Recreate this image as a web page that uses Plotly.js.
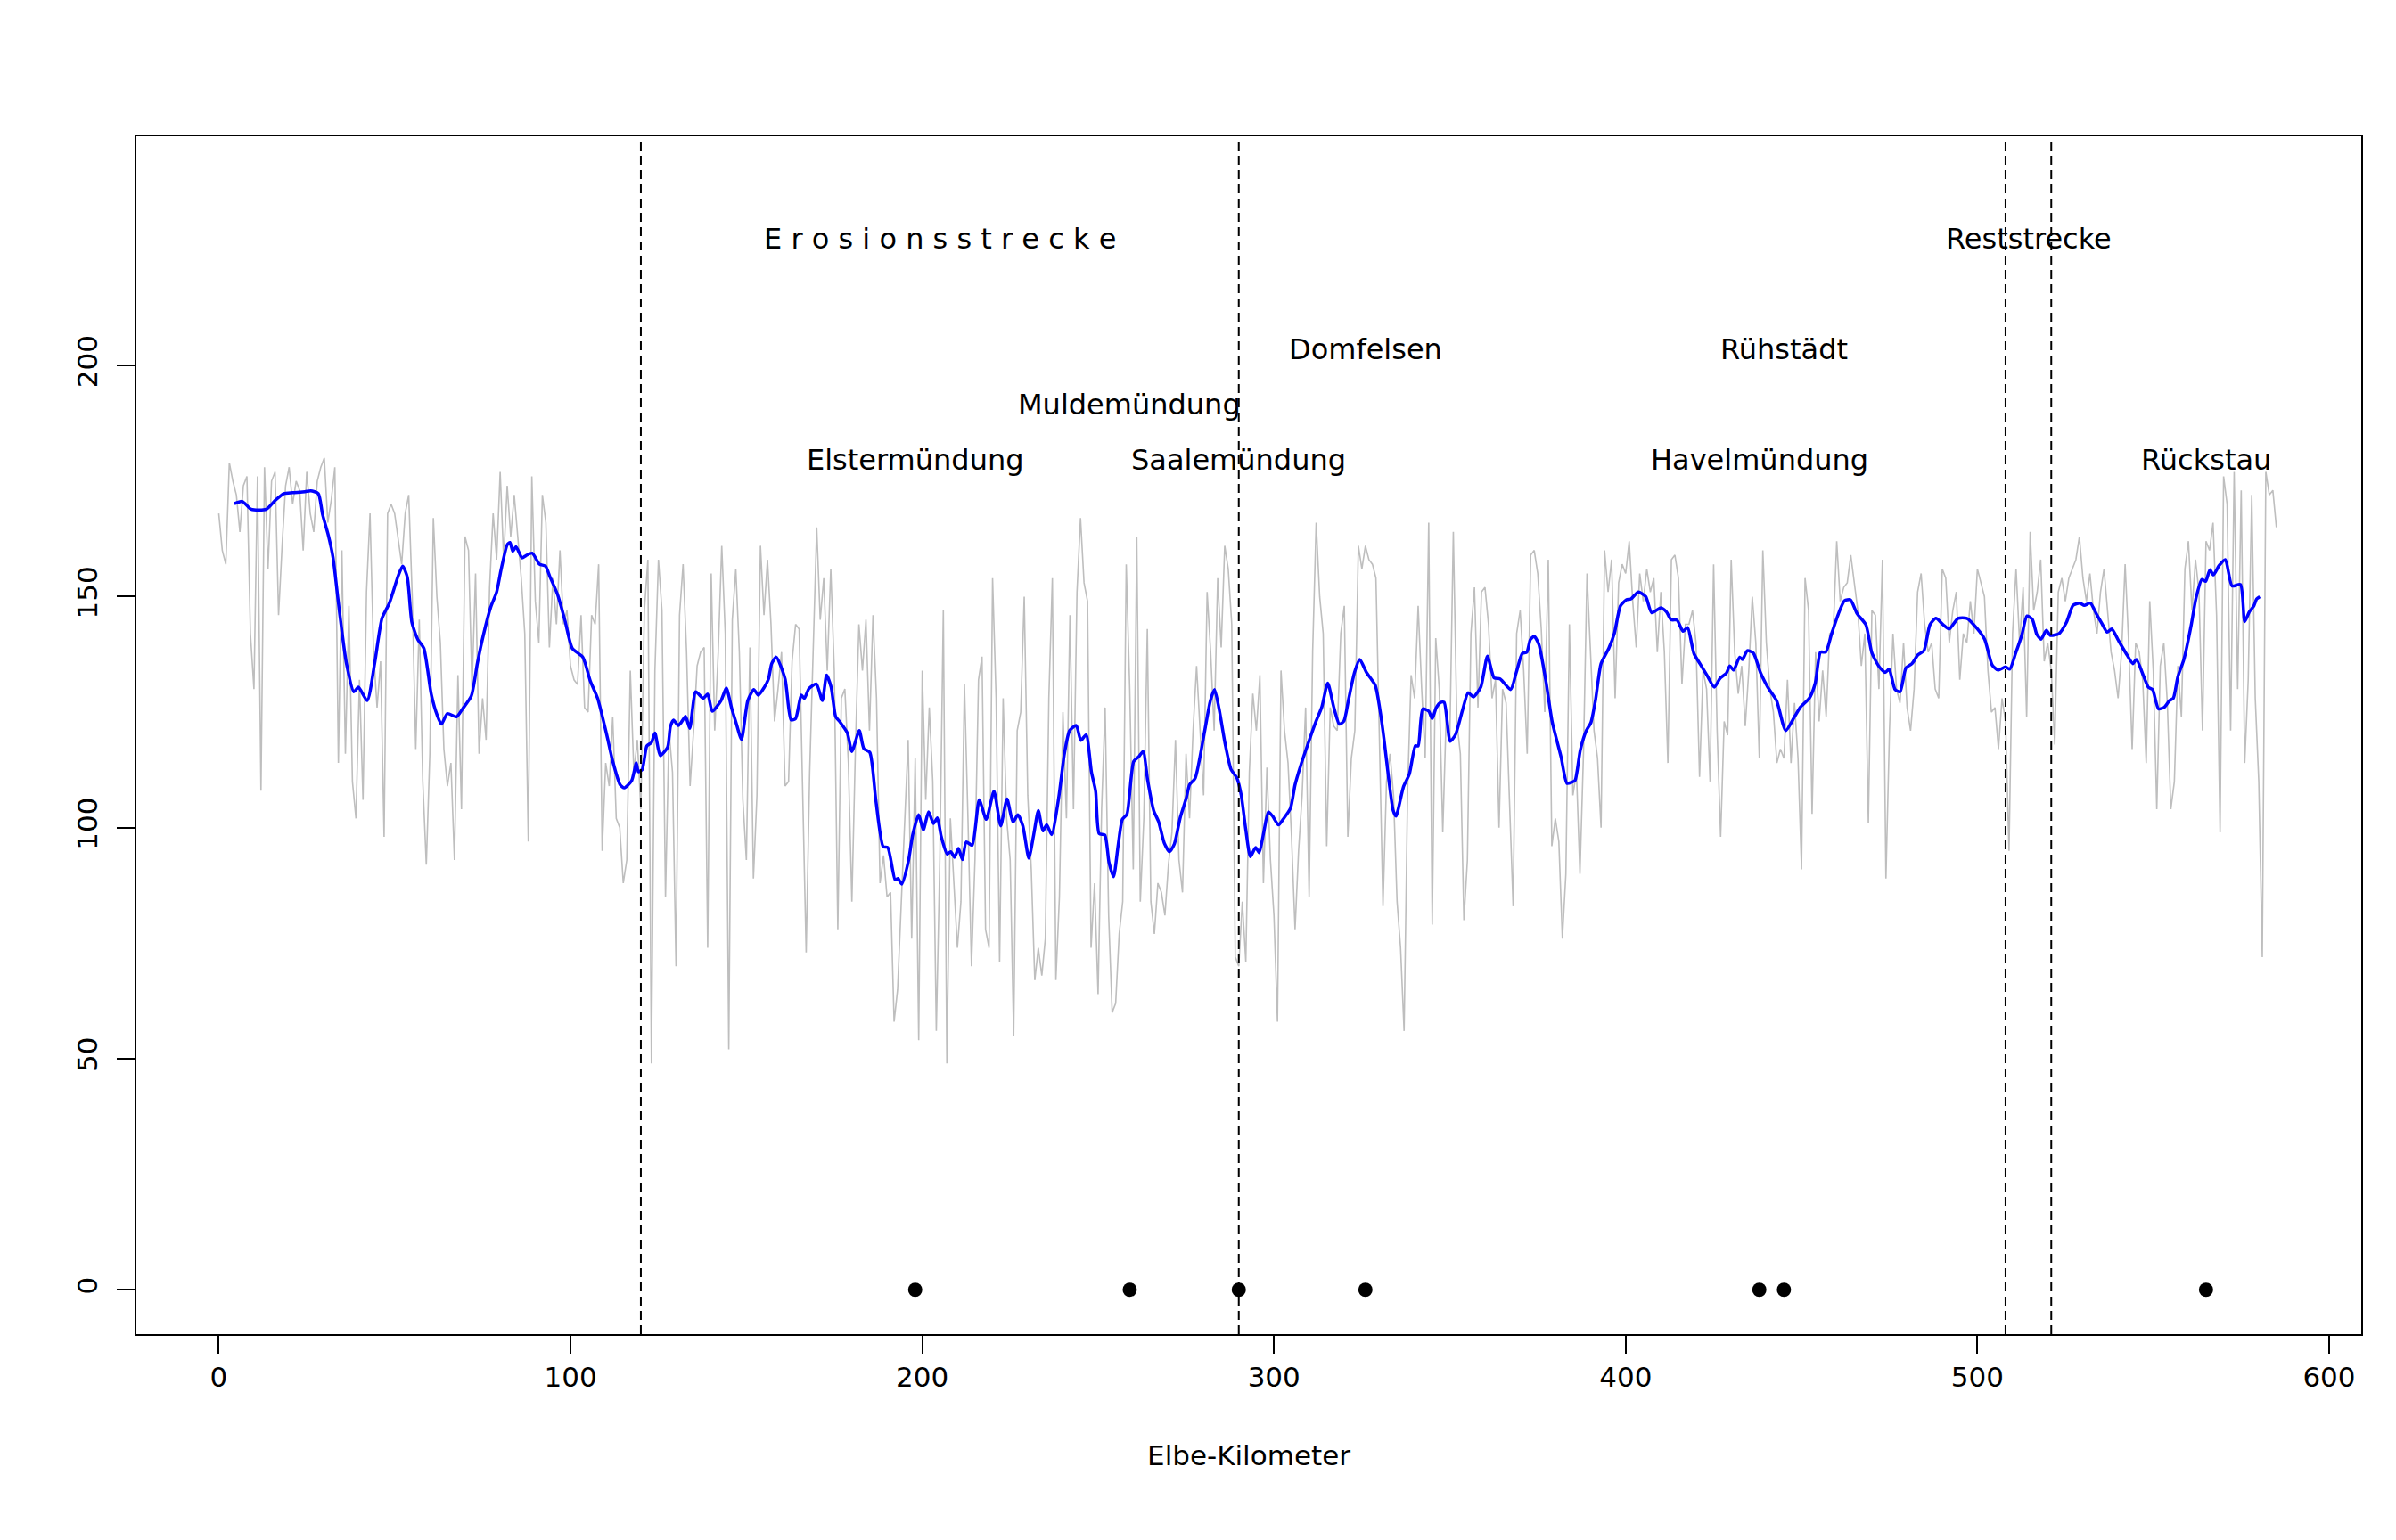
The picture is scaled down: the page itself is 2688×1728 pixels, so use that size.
<!DOCTYPE html>
<html>
<head>
<meta charset="utf-8">
<script src="https://cdn.plot.ly/plotly-3.0.1.min.js"></script>
<style>
html,body{margin:0;padding:0;background:#ffffff;}
#chart{width:2688px;height:1728px;}
</style>
</head>
<body>
<div id="chart"></div>
<script>
// ---- data ----
// raw bed-level values (grey), one value per Elbe-Kilometer from km 0
const grayStartKm = 0;
const grayStepKm = 1;
const grayVals = [
168,160,157,179,175,172,164,174,176,142,
130,176,108,178,156,175,177,146,161,174,
178,170,175,173,160,177,168,164,175,178,
180,166,171,178,114,160,116,148,110,102,
132,106,151,168,138,126,136,98,168,170,
168,162,157,168,172,150,117,145,110,92,
116,167,150,140,117,109,114,93,133,104,
163,160,130,155,116,128,119,152,168,158,
177,158,174,163,172,163,154,142,97,176,
149,140,172,166,139,154,144,160,144,147,
135,132,
131,146,126,125,146,144,157,95,
114,109,124,102,100,88,93,134,112,119,
104,147,158,49,134,158,147,85,121,112,
70,146,157,138,109,121,135,138,139,74,
155,121,138,161,142,52,145,156,138,106,
93,139,89,107,161,146,158,144,123,130,
138,109,110,136,144,143,105,73,112,140,
165,145,154,134,156,134,78,128,130,114,
84,117,144,134,145,121,146,128,88,94,
85,86,58,65,84,103,119,76,115,54,
134,106,126,110,
56,93,147,49,102,88,
74,84,131,102,70,93,132,137,78,74,
154,128,71,128,102,93,55,121,125,150,
107,91,67,74,68,76,128,154,67,85,
125,102,146,104,151,167,153,149,74,88,
64,104,126,81,60,62,77,84,157,130,
91,163,84,102,143,84,77,88,86,81,
92,99,119,93,86,116,102,121,135,121,
107,151,138,121,154,139,161,156,144,72,
70,84,71,112,129,121,133,88,113,93,
81,58,134,121,114,
98,78,95,107,126,
85,138,166,150,142,96,126,122,121,142,
148,98,115,121,161,156,161,158,157,154,
121,83,110,116,107,84,74,56,108,133,
128,148,130,115,166,79,141,130,99,125,
119,164,123,116,80,93,142,152,126,151,
152,144,128,132,100,130,127,104,83,142,
147,134,116,159,160,155,143,125,158,96,
102,97,76,90,144,107,112,90,116,155,
138,121,115,100,160,151,158,128,153,157,
155,162,149,139,155,149,
156,151,154,138,
151,138,114,158,159,154,131,144,144,147,
140,111,134,130,110,157,121,98,123,120,
158,138,129,135,122,134,150,140,115,160,
140,130,125,114,117,115,132,114,127,115,
91,154,147,103,138,123,134,124,142,142,
162,149,152,153,159,153,147,135,142,101,
147,146,130,158,89,121,142,130,127,140,
126,121,130,151,155,144,138,140,130,128,
156,154,140,147,151,132,142,140,149,142,
156,153,150,134,125,126,117,128,
123,95,
142,156,140,152,124,164,147,151,158,136,
140,134,118,151,154,149,154,156,158,163,
154,149,155,147,142,151,156,147,138,134,
128,138,157,140,117,140,138,132,114,149,
134,104,135,140,127,104,110,135,124,156,
162,147,158,151,121,162,160,166,146,99,
176,170,121,177,130,173,114,132,172,128,
110,72,177,172,173,165
];

// smoothed (moving mean) line, blue
const blueKm = [
4.4,6.7,9.2,13.5,16,18.5,21,24.5,26.1,28.3,29.5,31.2,32.5,33.8,35.0,36.3,38.4,39.7,42.2,44.3,
46.4,48.5,51.1,52.3,53.6,54.9,56.6,58.3,60.4,62.1,63.3,65.0,67.6,69.3,71.8,73.5,75.2,77.3,79.0,80.2,
82.0,82.8,83.6,84.5,86.2,87.4,89.1,91.2,92.9,94.2,96.3,98.4,
100.5,103.5,105.6,107.7,110.3,112.0,114.1,115.3,117.4,118.7,119.3,120.4,121.7,123.0,124.0,125.5,127.6,128.4,129.3,130.6,
131.4,132.7,133.9,135.6,137.7,139.0,140.3,142.8,144.3,145.8,147.0,148.6,150.4,152.1,153.4,155.1,156.3,157.2,158.5,161.0,
162.7,164.0,165.6,166.5,167.8,169.9,171.6,172.8,174.1,175.4,176.6,178.7,180.0,182.1,183.4,185.1,186.8,188.9,190.2,192.3,
193.1,194.2,196.1,197.3,
199.0,200.3,201.8,203.2,204.3,205.4,207.1,208.1,209.2,210.3,211.4,212.5,214.2,216.2,218.2,220.4,222.3,224.1,225.8,227.2,
228.6,230.3,231.7,233.0,234.3,235.4,236.8,238.8,240.4,241.9,243.8,245.1,246.6,248.1,249.3,250.3,251.9,253.1,254.4,255.7,
256.9,258.2,260.1,261.6,262.8,264.1,265.8,267.2,268.8,270.3,271.7,273.4,275.1,276.0,277.6,280.2,281.9,283.1,284.4,286.1,
287.8,289.5,290.7,292.0,293.3,294.8,295.8,297.1,298.4,299.6,301.3,302.6,304.7,
306.0,307.7,309.8,311.9,313.6,315.3,317.0,318.6,319.9,321.2,322.9,324.4,326.3,328.8,330.1,331.3,332.6,333.9,334.7,336.8,
338.5,340.2,341.0,342.3,344.0,345.0,346.1,347.4,348.4,350.1,351.6,353.7,355.2,356.7,358.8,360.7,362.6,364.3,367.3,368.9,
370.6,371.9,372.9,374.0,375.3,377.4,379.1,381.6,383.3,384.6,385.6,387.1,388.8,390.1,391.4,393.0,395.2,396.8,398.5,400.2,
401.5,403.6,405.7,407.4,410.0,411.6,412.9,414.6,416.3,417.6,419.4,421.1,423.1,425.2,426.9,428.6,429.6,430.7,432.4,433.2,
434.6,436.3,438.3,440.4,442.9,445.5,448.0,449.7,452.2,453.9,455.4,456.9,458.6,460.7,462.2,463.9,465.8,468.3,470.0,472.1,
473.8,474.9,476.6,478.0,479.7,481.4,483.1,484.8,486.5,488.2,490.3,492.0,494.5,497.0,500.0,502.1,
504.2,505.9,508.0,509.2,510.9,512.6,514.1,515.6,516.9,518.1,519.6,520.8,523.2,525.3,527.2,529.1,530.4,532.1,533.8,535.4,
536.9,538.2,540.1,542.2,544.2,545.2,547.3,548.6,549.8,551.5,553.2,554.6,555.7,557.0,558.7,560.8,562.1,563.8,564.9,566.1,
567.1,568.7,570.5,572.4,574.8,576.0,577.3,578.6,579.4,580.3
];
const blueVal = [
170.1,170.6,168.9,168.9,170.8,172.3,172.5,172.7,172.9,172.3,167.8,163.1,158.4,150.0,142.5,135.5,129.4,130.4,127.5,135.5,
145.3,148.6,154.7,156.6,154.2,144.4,140.7,138.8,128.9,124.3,122.4,124.7,124.0,125.7,128.5,135.5,141.6,147.7,151.0,155.6,
161.2,161.7,159.8,160.8,158.4,158.9,159.4,157.0,156.6,154.2,150.5,144.9,
138.8,136.9,131.8,128.0,120.1,114.4,109.3,108.6,110.2,114.0,112.1,112.6,117.7,118.4,120.5,115.6,117.4,121.9,123.3,122.1,
122.7,124.1,121.5,129.4,128.0,128.9,125.2,127.5,130.2,125.9,122.9,119.1,127.5,129.9,128.7,130.4,132.2,135.5,136.9,132.2,
123.3,123.6,128.7,128.0,130.1,131.1,127.5,133.0,130.4,124.0,122.9,120.5,116.5,121.0,117.1,116.3,106.0,95.9,95.7,88.7,
89.0,87.8,92.9,98.5,
102.8,99.5,103.4,100.9,102.1,98.1,94.3,94.8,93.6,95.5,93.1,96.9,96.2,106.0,101.8,107.9,100.4,106.2,101.2,102.8,
100.4,93.4,98.5,103.7,99.3,100.6,98.5,106.5,115.9,121.0,122.1,118.9,120.1,112.1,107.9,98.7,98.4,92.5,89.4,96.2,
101.8,102.9,114.3,115.4,116.5,110.2,103.7,101.3,96.7,94.8,96.5,102.3,106.5,109.3,110.7,120.5,127.4,129.9,125.7,118.2,
112.6,110.7,107.0,99.5,93.7,95.7,94.6,99.0,103.4,102.5,100.6,101.8,104.2,
109.3,113.7,118.4,122.9,126.1,131.3,126.1,122.4,123.1,127.7,133.6,136.4,133.6,130.8,125.7,119.1,110.7,103.7,102.5,108.8,
111.6,117.7,117.7,125.7,125.2,123.6,125.9,127.1,127.1,118.7,120.1,125.7,129.2,128.3,130.4,137.1,132.4,132.2,129.9,133.6,
137.7,138.0,140.7,141.4,139.7,131.3,122.9,115.4,109.6,109.8,110.2,116.8,121.0,122.7,127.5,135.5,138.8,142.1,148.0,149.3,
149.5,151.0,150.0,146.5,147.6,146.7,145.0,144.9,142.5,143.3,137.7,135.5,133.0,130.4,132.4,133.4,135.0,134.1,136.9,136.4,
138.3,137.8,133.6,130.4,127.5,121.0,124.0,126.1,128.0,131.3,138.0,138.0,142.1,146.7,149.1,149.3,146.3,143.9,137.8,134.8,
133.6,134.3,129.9,129.4,134.6,135.5,137.4,138.3,143.9,145.3,143.9,143.0,145.3,145.3,143.0,140.7,
135.2,134.1,134.8,134.3,137.8,141.6,145.8,145.1,141.8,140.8,142.7,141.6,142.0,144.4,148.1,148.6,148.1,148.6,146.3,144.2,
142.3,143.0,140.5,137.8,135.5,136.4,132.7,130.4,129.9,125.7,126.1,127.5,128.0,132.7,136.4,143.9,149.5,153.7,153.3,155.8,
154.7,156.7,158.0,152.3,152.6,144.6,146.7,148.0,149.5,150.0
];

// section boundaries (dashed vertical lines), km
const sectionBounds = [120, 290, 508, 521];

// locations marked on the axis (filled points at level 0)
const pointKm = [198, 259, 290, 326, 438, 445, 565];
const pointVal = [0, 0, 0, 0, 0, 0, 0];

// text labels
const labelText = ['E r o s i o n s s t r e c k e', 'Reststrecke', 'Domfelsen', 'Rühstädt',
                   'Muldemündung', 'Elstermündung', 'Saalemündung', 'Havelmündung', 'Rückstau'];
const labelKm  = [205, 514.5, 326, 445, 259, 198, 290, 438, 565];
const labelVal = [227.5, 227.5, 203.5, 203.5, 191.5, 179.5, 179.5, 179.5, 179.5];

// axes
const xTicks = [0, 100, 200, 300, 400, 500, 600];
const yTicks = [0, 50, 100, 150, 200];
const xTitle = 'Elbe-Kilometer';

// ---- build ----
const grayKm = grayVals.map((v, i) => grayStartKm + i * grayStepKm);

const FONT = 'DejaVu Sans, Liberation Sans, Arial, sans-serif';

const traces = [
  {x: grayKm, y: grayVals, type: 'scatter', mode: 'lines',
   line: {color: '#BEBEBE', width: 1.6}, hoverinfo: 'skip', showlegend: false},
  {x: blueKm, y: blueVal, type: 'scatter', mode: 'lines',
   line: {color: '#0000FF', width: 3.5, shape: 'spline', smoothing: 0.6}, showlegend: false},
  {x: pointKm, y: pointVal, type: 'scatter', mode: 'markers',
   marker: {color: '#000000', size: 16, line: {width: 0}}, showlegend: false}
];

const shapes = sectionBounds.map(k => ({
  type: 'line', xref: 'x', yref: 'paper', x0: k, x1: k, y0: 0, y1: 1,
  line: {color: '#000000', width: 2, dash: '10px,6px'}
}));

const annotations = labelText.map((t, i) => ({
  x: labelKm[i], y: labelVal[i], xref: 'x', yref: 'y', text: t, showarrow: false,
  xanchor: 'center', yanchor: 'middle',
  font: {family: FONT, size: 32, color: '#000000'}
}));

const axisCommon = {
  showgrid: false, zeroline: false, showline: true, mirror: true,
  linecolor: '#000000', linewidth: 2,
  ticks: 'outside', ticklen: 20, tickwidth: 2, tickcolor: '#000000',
  tickfont: {family: FONT, size: 31, color: '#000000'},
  fixedrange: true
};

const layout = {
  width: 2688, height: 1728,
  paper_bgcolor: '#ffffff', plot_bgcolor: '#ffffff',
  margin: {l: 153, r: 39, t: 153, b: 231, pad: 0},
  font: {family: FONT, size: 31, color: '#000000'},
  showlegend: false,
  xaxis: Object.assign({}, axisCommon, {
    range: [-23.43, 609.13], tickmode: 'array', tickvals: xTicks,
    ticktext: xTicks.map(String),
    title: {text: xTitle, font: {family: FONT, size: 31, color: '#000000'}, standoff: 60}
  }),
  yaxis: Object.assign({}, axisCommon, {
    range: [-9.6, 249.6], tickmode: 'array', tickvals: yTicks,
    ticktext: yTicks.map(String), tickangle: -90, ticklabelstandoff: 10
  }),
  shapes: shapes,
  annotations: annotations
};

Plotly.newPlot('chart', traces, layout, {staticPlot: true, displayModeBar: false});
</script>
</body>
</html>
